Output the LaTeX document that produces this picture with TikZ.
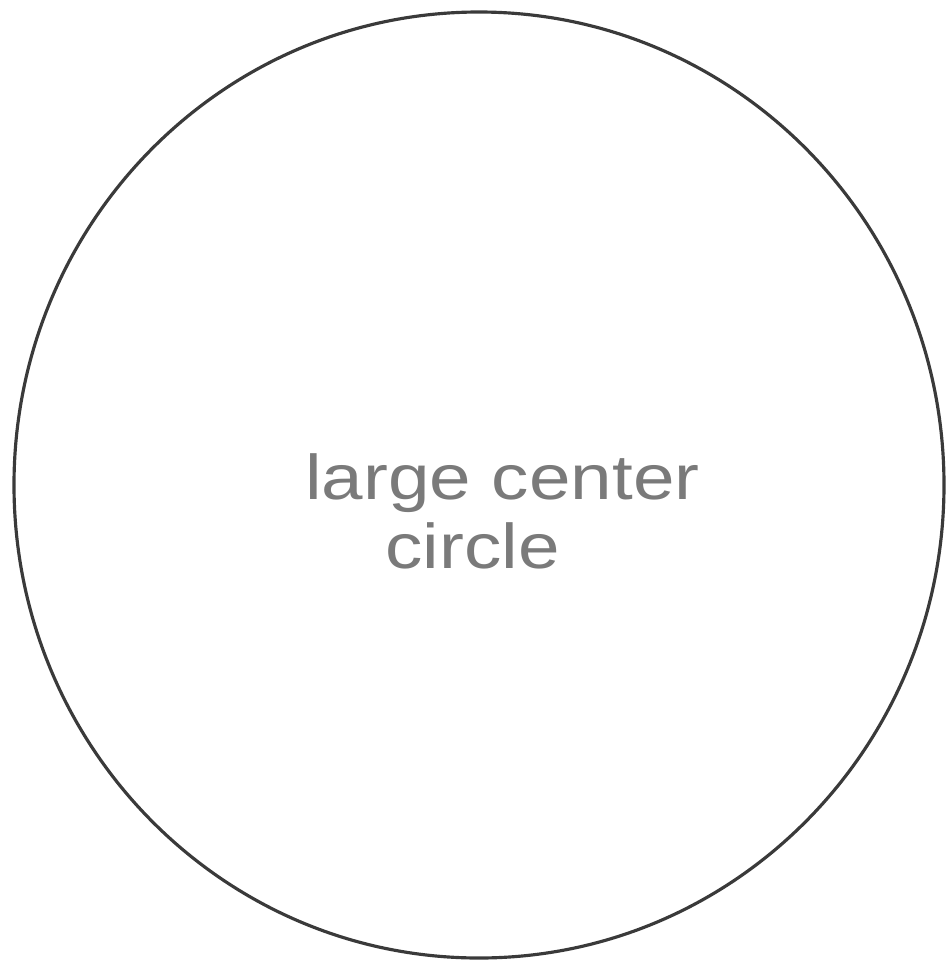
\documentclass[tikz,border=0pt]{standalone}
\usepackage{fontspec}
\setmainfont{Liberation Sans}
\definecolor{ink}{HTML}{3A3A3A}
\definecolor{pencil}{HTML}{7A7A7A}
\tikzset{
  bigcircle/.style={draw=ink, line width=1.8pt},
  handtext/.style={text=pencil, font=\fontsize{36}{41}\selectfont, align=left, inner sep=0pt}
}
\begin{document}
\begin{tikzpicture}[x=0.02cm,y=-0.02cm]
\useasboundingbox (0,0) rectangle (948,964);
\draw[bigcircle] (479,485) ellipse [x radius=465, y radius=473];
\node[handtext, anchor=north west] (label) at (305,449)
  {\scalebox{1.18}[1]{\begin{tabular}{@{}l@{}}large center\\[-2pt]\hspace*{1.36cm}circle\end{tabular}}};
\end{tikzpicture}
\end{document}
